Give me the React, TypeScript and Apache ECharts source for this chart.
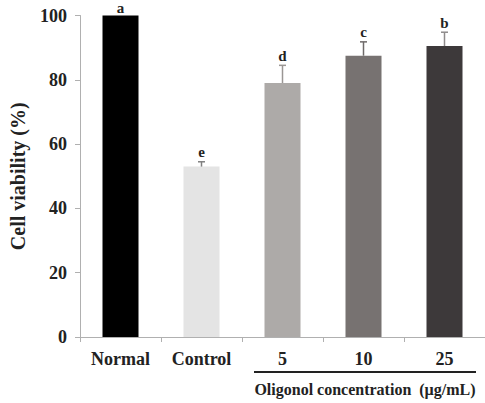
import React, { useEffect, useRef } from "react";
import * as echarts from "echarts";

// Cell viability per treatment group
const categories = ["Normal", "Control", "5", "10", "25"];
const viability = [100, 53, 79, 87.5, 90.5];
const errors = [0, 1.5, 5.5, 4.3, 4.3];
const significance = ["a", "e", "d", "c", "b"];
const barColors = ["#000000", "#e4e4e4", "#adaaa8", "#777271", "#3d393a"];
const errColors = ["#000000", "#808080", "#9a9694", "#6e6a69", "#8f8b8b"];
const yTicks = [0, 20, 40, 60, 80, 100];

const SERIF = "Liberation Serif";

export default function App() {
  const ref = useRef<HTMLDivElement>(null);

  useEffect(() => {
    if (!ref.current) return;
    const chart = echarts.init(ref.current, undefined, { renderer: "svg" });

    const errData = categories.map((_, i) => [i, viability[i], errors[i]]);

    chart.setOption({
      animation: false,
      backgroundColor: "#ffffff",
      textStyle: { fontFamily: SERIF },
      grid: { left: 72, top: 15.5, width: 420, height: 321.5, containLabel: false },
      xAxis: {
        type: "category",
        data: categories,
        axisLine: { lineStyle: { color: "#b0b0b0", width: 1 } },
        axisTick: { show: true, length: 5, lineStyle: { color: "#b0b0b0" } },
        axisLabel: {
          margin: 13,
          fontFamily: SERIF,
          fontWeight: "bold",
          fontSize: 18,
          color: "#222",
        },
      },
      yAxis: {
        type: "value",
        min: yTicks[0],
        max: yTicks[yTicks.length - 1],
        interval: 20,
        splitLine: { show: false },
        axisLine: { show: true, lineStyle: { color: "#b0b0b0", width: 1 } },
        axisTick: { show: true, length: 5, lineStyle: { color: "#b0b0b0" } },
        axisLabel: {
          margin: 13,
          fontFamily: SERIF,
          fontWeight: "bold",
          fontSize: 18,
          color: "#222",
        },
        name: "Cell viability (%)",
        nameLocation: "middle",
        nameGap: 52,
        nameRotate: 90,
        nameTextStyle: {
          fontFamily: SERIF,
          fontWeight: "bold",
          fontSize: 20,
          color: "#222",
        },
      },
      series: [
        {
          type: "bar",
          barWidth: 36,
          data: viability.map((v, i) => ({
            value: v,
            itemStyle: { color: barColors[i] },
          })),
        },
        {
          type: "custom",
          data: errData,
          z: 5,
          renderItem: (params: any, api: any) => {
            const i = api.value(0);
            const v = api.value(1);
            const e = api.value(2);
            const base = api.coord([i, v]);
            const top = api.coord([i, v + e]);
            const color = errColors[i];
            const children: any[] = [];
            if (e > 0) {
              children.push({
                type: "line",
                shape: { x1: base[0], y1: base[1], x2: top[0], y2: top[1] },
                style: { stroke: color, lineWidth: 1.5 },
              });
              children.push({
                type: "line",
                shape: { x1: top[0] - 3.5, y1: top[1], x2: top[0] + 3.5, y2: top[1] },
                style: { stroke: color, lineWidth: 1.5 },
              });
            }
            children.push({
              type: "text",
              x: top[0],
              y: e > 0 ? top[1] - 2 : top[1] - 0.5,
              style: {
                text: significance[i],
                fontFamily: SERIF,
                fontWeight: "bold",
                fontSize: 15,
                fill: "#222",
                align: "center",
                verticalAlign: "bottom",
              },
            });
            return { type: "group", children };
          },
        },
      ],
      graphic: [
        {
          type: "line",
          shape: { x1: 254, y1: 372, x2: 476, y2: 372 },
          style: { stroke: "#222", lineWidth: 2 },
        },
        {
          type: "text",
          x: 365,
          y: 389,
          style: {
            text: "Oligonol concentration  (µg/mL)",
            fontFamily: SERIF,
            fontWeight: "bold",
            fontSize: 16,
            fill: "#222",
            align: "center",
            verticalAlign: "middle",
          },
        },
      ],
    });

    return () => chart.dispose();
  }, []);

  return (
    <div
      ref={ref}
      style={{ position: "fixed", left: 0, top: 0, width: 485, height: 403 }}
    />
  );
}
